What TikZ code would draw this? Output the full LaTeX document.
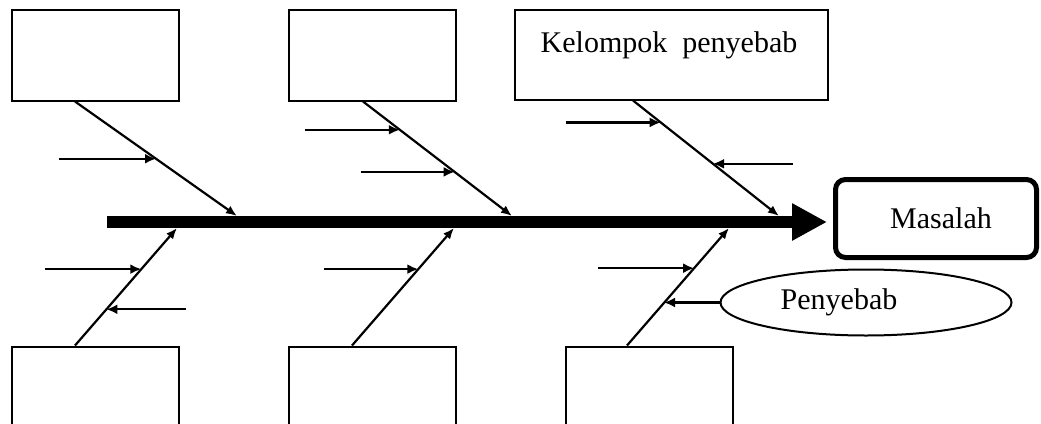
\documentclass[tikz,border=0pt]{standalone}
\usepackage{fontspec}
\setmainfont{Liberation Serif}
\usetikzlibrary{arrows.meta, calc, positioning, shapes.geometric}

\begin{document}
\begin{tikzpicture}[x=1pt, y=-1pt,
            every node/.style={font=\fontsize{30}{36}\selectfont},
            causebox/.style={draw, line width=2pt, inner sep=0pt, minimum width=167pt, minimum height=91pt},
            bone/.style={line width=2.2pt, -{Latex[length=11pt, width=9pt]}},
            subcause/.style={line width=2.2pt, -{Latex[length=11pt, width=10pt]}}]
            \clip (0,0) rectangle (1041,423);
            \fill[white] (0,0) rectangle (1041,423);
            % kotak kelompok penyebab
            \node[causebox] (c1) at (95,55) {};
            \node[causebox] (c2) at (372.5,55) {};
            \node[causebox, minimum width=313pt, minimum height=90pt] (c3) at (671,54.5) {};
            \node (c3txt) at (669,45) {Kelompok\ \ penyebab};
            \node[causebox] (c4) at (95.5,392) {};
            \node[causebox] (c5) at (372.5,392) {};
            \node[causebox] (c6) at (649,392) {};
            % masalah dan tulang utama
            \node[draw, line width=5pt, rounded corners=10pt, inner sep=0pt, minimum width=201pt, minimum height=78pt] (mas) at (936,218.5) {\hspace*{10pt}Masalah};
            \coordinate (tail) at (107,222);
            \draw[line width=12pt, -{Triangle[length=35pt, width=35pt]}] (tail) -- ([xshift=-6pt]tail -| mas.west);
            % tulang kelompok
            \coordinate (s1) at ([xshift=-20pt]c1.south);
            \coordinate (s2) at ([xshift=-9.5pt]c2.south);
            \coordinate (s3) at ([xshift=-38pt]c3.south);
            \coordinate (s4) at ([xshift=-20.5pt]c4.north);
            \coordinate (s5) at ([xshift=-20.5pt]c5.north);
            \coordinate (s6) at ([xshift=-22pt]c6.north);
            \coordinate (j1) at (237,216);
            \coordinate (j2) at (512,216);
            \coordinate (j3) at (779,216);
            \coordinate (j4) at (177,228);
            \coordinate (j5) at (454,228);
            \coordinate (j6) at (729,228);
            \foreach \i in {1,...,6} {
                \draw[bone] (s\i) -- (j\i);
            }
            % penyebab kecil
            \coordinate (p1) at ($(s1)!0.5!(j1)$);
            \coordinate (p2) at ($(s2)!0.247!(j2)$);
            \coordinate (p3) at ($(s2)!0.615!(j2)$);
            \coordinate (p4) at ($(s3)!0.19!(j3)$);
            \coordinate (p5) at ($(s4)!0.65!(j4)$);
            \coordinate (p6) at ($(s5)!0.65!(j5)$);
            \coordinate (p7) at ($(s6)!0.658!(j6)$);
            \draw[subcause] ([xshift=-97pt]p1) -- (p1);
            \draw[subcause] ([xshift=-95pt]p2) -- (p2);
            \draw[subcause] ([xshift=-94pt]p3) -- (p3);
            \draw[subcause] ([xshift=-95pt]p4) -- (p4);
            \draw[subcause] ([xshift=-96pt]p5) -- (p5);
            \draw[subcause] ([xshift=-94pt]p6) -- (p6);
            \draw[subcause] ([xshift=-96pt]p7) -- (p7);
            \coordinate (q1) at ($(s3)!0.548!(j3)$);
            \coordinate (q2) at ($(s4)!0.308!(j4)$);
            \draw[subcause] ([xshift=80pt]q1) -- (q1);
            \draw[subcause] ([xshift=80pt]q2) -- (q2);
            % penyebab
            \node[draw, ellipse, line width=2pt, inner sep=0pt, minimum width=291pt, minimum height=66pt] (pen) at (866,302.5) {Penyebab\hspace*{54pt}};
            \coordinate (q3) at ($(s6)!0.363!(j6)$);
            \draw[subcause] (pen.west) -- (pen.west -| q3);
        \end{tikzpicture}
\end{document}
